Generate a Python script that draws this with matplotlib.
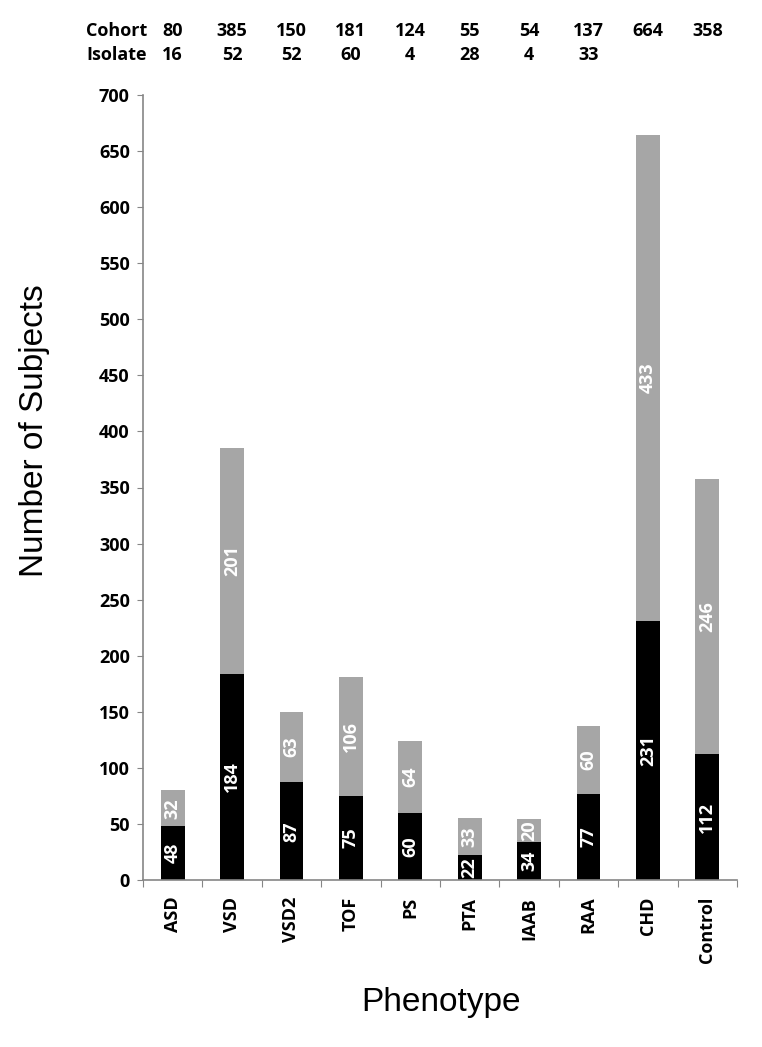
import matplotlib
matplotlib.use("Agg")
import matplotlib.pyplot as plt
import matplotlib.transforms as mtransforms
import numpy as np

# phenotypes and counts
phenotypes = ["ASD", "VSD", "VSD2", "TOF", "PS", "PTA", "IAAB", "RAA", "CHD", "Control"]
black_counts = [48, 184, 87, 75, 60, 22, 34, 77, 231, 112]
gray_counts = [32, 201, 63, 106, 64, 33, 20, 60, 433, 246]
cohort = [80, 385, 150, 181, 124, 55, 54, 137, 664, 358]
isolate = [16, 52, 52, 60, 4, 28, 4, 33, None, None]
y_ticks = list(range(0, 701, 50))

bold_font = "Open Sans"
axis_gray = "#868686"
fs = 13

fig = plt.figure(figsize=(7.62, 10.47), dpi=100)
ax = fig.add_axes([143 / 762, 1 - 880 / 1047, (737 - 143) / 762, (880 - 95) / 1047])

x = np.arange(len(phenotypes))
width = 0.4
ax.bar(x, black_counts, width, color="black")
ax.bar(x, gray_counts, width, bottom=black_counts, color="#a6a6a6")

for xi, b, g in zip(x, black_counts, gray_counts):
    ax.text(xi, b / 2, str(b), rotation=90, ha="center", va="center",
            color="white", fontsize=fs, fontweight="bold", family=bold_font)
    ax.text(xi, b + g / 2, str(g), rotation=90, ha="center", va="center",
            color="white", fontsize=fs, fontweight="bold", family=bold_font)

ax.set_xlim(-0.5, len(phenotypes) - 0.5)
ax.set_ylim(0, 700)
ax.set_yticks(y_ticks)
ax.set_yticklabels([str(t) for t in y_ticks], fontsize=fs, fontweight="bold", family=bold_font)

# category ticks sit between bars, labels at bar centers
ax.set_xticks(np.arange(-0.5, len(phenotypes), 1.0))
ax.set_xticklabels([])
ax.set_xticks(x, minor=True)
ax.set_xticklabels(phenotypes, minor=True, rotation=90, fontsize=fs,
                   fontweight="bold", family=bold_font, va="top")
ax.tick_params(axis="x", which="minor", length=0, pad=12)
ax.tick_params(axis="x", which="major", length=5, color=axis_gray, direction="out")
ax.tick_params(axis="y", length=4.5, color=axis_gray, direction="out", pad=5)

for side in ["top", "right"]:
    ax.spines[side].set_visible(False)
for side in ["left", "bottom"]:
    ax.spines[side].set_color(axis_gray)
    ax.spines[side].set_linewidth(1.2)

# table above the chart, values over each bar
trans = mtransforms.blended_transform_factory(ax.transData, fig.transFigure)
fig.text(86 / 762, 1 - 31 / 1047, "Cohort", fontsize=fs, fontweight="bold",
         family=bold_font, ha="left", va="center")
fig.text(86 / 762, 1 - 55 / 1047, "Isolate", fontsize=fs, fontweight="bold",
         family=bold_font, ha="left", va="center")
for xi, c, s in zip(x, cohort, isolate):
    fig.text(xi, 1 - 31 / 1047, str(c), fontsize=fs, fontweight="bold",
             family=bold_font, ha="center", va="center", transform=trans)
    if s is not None:
        fig.text(xi, 1 - 55 / 1047, str(s), fontsize=fs, fontweight="bold",
                 family=bold_font, ha="center", va="center", transform=trans)

fig.text(35 / 762, 1 - 431 / 1047, "Number of Subjects", rotation=90, fontsize=24,
         family="Liberation Sans", ha="center", va="center")
fig.text(441 / 762, 1 - 1003 / 1047, "Phenotype", fontsize=24,
         family="Liberation Sans", ha="center", va="center")

fig.savefig("out.png", dpi=100)
